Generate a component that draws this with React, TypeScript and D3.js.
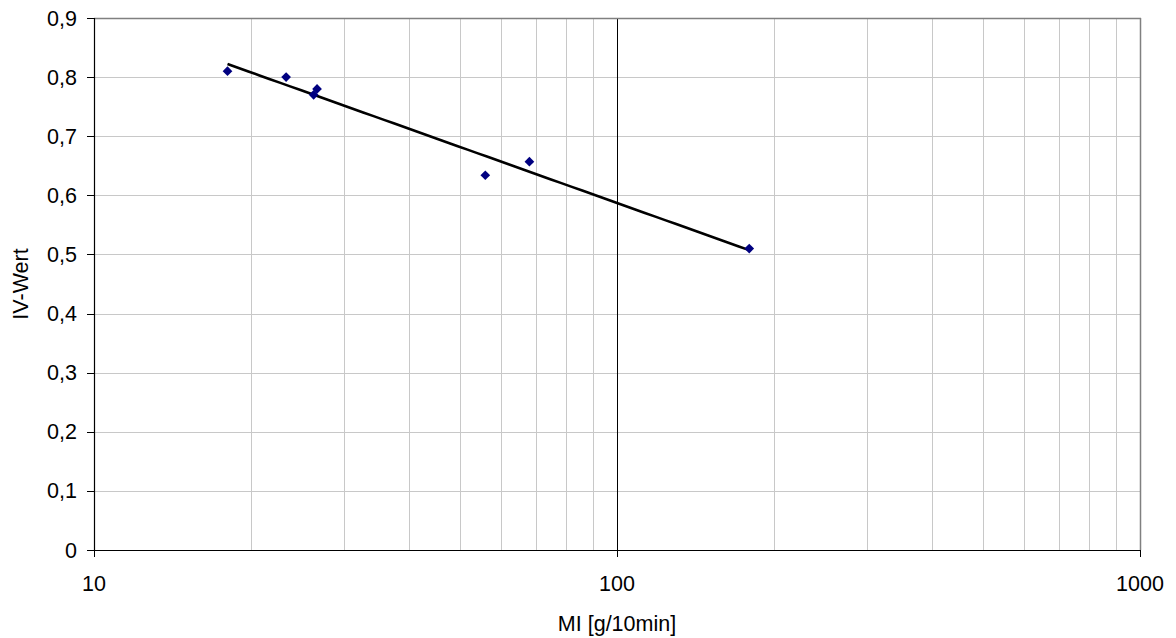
import React from "react";
import * as d3 from "d3";

const miValues = [18, 23.3, 26.7, 26.3, 56, 68, 179];
const ivValues = [0.81, 0.8, 0.78, 0.77, 0.634, 0.657, 0.51];
const yTicks = [0, 0.1, 0.2, 0.3, 0.4, 0.5, 0.6, 0.7, 0.8, 0.9];
const xMajorTicks = [10, 100, 1000];
const xMinorTicks = [20, 30, 40, 50, 60, 70, 80, 90, 200, 300, 400, 500, 600, 700, 800, 900];

const W = 1176;
const H = 638;
const L = 94, T = 18, R = 1140, B = 550;
const FONT = "'Liberation Sans', Arial, sans-serif";
const FS = 21.5;

export default function App() {
  const x = d3.scaleLog().domain([10, 1000]).range([L, R]);
  const y = d3.scaleLinear().domain([0, 0.9]).range([B, T]);

  // logarithmic trendline (least squares on log10 x)
  const lx = miValues.map((v) => Math.log10(v));
  const mx = d3.mean(lx) as number;
  const my = d3.mean(ivValues) as number;
  let sxy = 0, sxx = 0;
  lx.forEach((v, i) => {
    sxy += (v - mx) * (ivValues[i] - my);
    sxx += (v - mx) * (v - mx);
  });
  const slope = sxy / sxx;
  const icpt = my - slope * mx;
  const xMin = d3.min(miValues) as number;
  const xMax = d3.max(miValues) as number;
  const trendPts: [number, number][] = d3.range(0, 51).map((i) => {
    const l = Math.log10(xMin) + ((Math.log10(xMax) - Math.log10(xMin)) * i) / 50;
    return [x(Math.pow(10, l)), y(icpt + slope * l)];
  });
  const line = d3.line();

  const diamond = d3.symbol().type(d3.symbolDiamond2).size(60)() as string;
  const crisp = (v: number) => Math.round(v) + 0.5;

  return (
    <svg width={W} height={H} style={{ position: "absolute", left: 0, top: 0, background: "#fff" }}>
      {/* horizontal grid */}
      {yTicks.slice(1).map((t) => (
        <line key={"hg" + t} x1={L} x2={R} y1={crisp(y(t))} y2={crisp(y(t))} stroke="#c8c8c8" strokeWidth={1} />
      ))}
      {/* vertical minor grid */}
      {xMinorTicks.map((t) => (
        <line key={"vg" + t} x1={crisp(x(t))} x2={crisp(x(t))} y1={T} y2={B} stroke="#c8c8c8" strokeWidth={1} />
      ))}
      {/* major vertical at 100 */}
      <line x1={crisp(x(100))} x2={crisp(x(100))} y1={T} y2={B} stroke="#000" strokeWidth={1} />
      {/* plot border top / right */}
      <line x1={L} x2={R + 1} y1={crisp(T)} y2={crisp(T)} stroke="#808080" strokeWidth={1.5} />
      <line x1={crisp(R)} x2={crisp(R)} y1={T} y2={B} stroke="#808080" strokeWidth={1.5} />
      {/* axes */}
      <line x1={crisp(L)} x2={crisp(L)} y1={T} y2={B + 1} stroke="#000" strokeWidth={1.2} />
      <line x1={L} x2={R + 1} y1={crisp(B)} y2={crisp(B)} stroke="#000" strokeWidth={1.2} />
      {/* y ticks and labels */}
      {yTicks.map((t) => (
        <g key={"yt" + t}>
          <line x1={L - 7} x2={L} y1={crisp(y(t))} y2={crisp(y(t))} stroke="#000" strokeWidth={1} />
          <text x={L - 17} y={y(t)} dy="0.35em" textAnchor="end" fontFamily={FONT} fontSize={FS} fill="#000">
            {String(t.toFixed(1).replace(/\.0$/, "")).replace(".", ",")}
          </text>
        </g>
      ))}
      {/* x ticks and labels */}
      {xMajorTicks.map((t) => (
        <g key={"xt" + t}>
          <line x1={crisp(x(t))} x2={crisp(x(t))} y1={B} y2={B + 7} stroke="#000" strokeWidth={1} />
          <text x={x(t)} y={583} dy="0.35em" textAnchor="middle" fontFamily={FONT} fontSize={FS} fill="#000">
            {String(t)}
          </text>
        </g>
      ))}
      {/* trendline */}
      <path d={line(trendPts) as string} fill="none" stroke="#000" strokeWidth={2.6} />
      {/* points */}
      {miValues.map((v, i) => (
        <path key={"p" + i} d={diamond} transform={`translate(${x(v)},${y(ivValues[i])})`} fill="#000080" />
      ))}
      {/* axis titles */}
      <text x={(L + R) / 2} y={623} dy="0.35em" textAnchor="middle" fontFamily={FONT} fontSize={FS} fill="#000">
        MI [g/10min]
      </text>
      <text
        transform={`translate(20,${(T + B) / 2}) rotate(-90)`}
        dy="0.35em"
        textAnchor="middle"
        fontFamily={FONT}
        fontSize={FS}
        fill="#000"
      >
        IV-Wert
      </text>
    </svg>
  );
}
